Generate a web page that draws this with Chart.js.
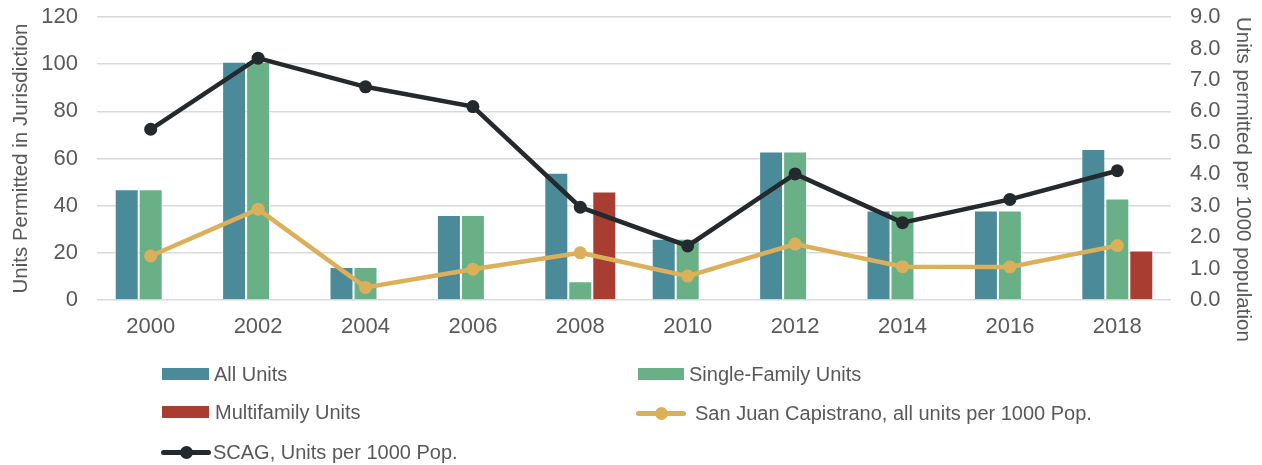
<!DOCTYPE html>
<html>
<head>
<meta charset="utf-8">
<script src="https://cdn.jsdelivr.net/npm/chart.js@4.4.1/dist/chart.umd.min.js"></script>
<style>
  html, body { margin: 0; padding: 0; background: #ffffff; }
  #wrap { position: relative; width: 1262px; height: 465px; overflow: hidden; }
  #c { position: absolute; left: 0; top: 0; }
  .lg { position: absolute; font-family: "Liberation Sans", Arial, sans-serif; font-size: 20px; color: #595959; white-space: nowrap; line-height: 24px; }
  .sw { position: absolute; }
</style>
</head>
<body>
<div id="wrap">
  <canvas id="c" width="1262" height="465"></canvas>
  <div id="legend"></div>
</div>
<script>
const years = ['2000','2002','2004','2006','2008','2010','2012','2014','2016','2018'];
const allUnits = [47, 101, 14, 36, 54, 26, 63, 38, 38, 64];
const singleFamily = [47, 101, 14, 36, 8, 26, 63, 38, 38, 43];
const multifamily = [0, 0, 0, 0, 46, 0, 0, 0, 0, 21];
const sjcPer1000 = [1.40, 2.89, 0.40, 0.98, 1.50, 0.76, 1.78, 1.06, 1.05, 1.73];
const scagPer1000 = [5.43, 7.69, 6.78, 6.15, 2.95, 1.72, 4.01, 2.46, 3.20, 4.11];
const leftTicks = [0, 20, 40, 60, 80, 100, 120];
const rightTicks = [0, 1, 2, 3, 4, 5, 6, 7, 8, 9];
const seriesLabels = ['All Units', 'Single-Family Units', 'Multifamily Units', 'San Juan Capistrano, all units per 1000 Pop.', 'SCAG, Units per 1000 Pop.'];
const seriesColors = ['#4a8a99', '#6ab087', '#a93d31', '#dcb05a', '#23292c'];

const FONT = '"Liberation Sans", Arial, sans-serif';
const TICK = '#595959';

const barCommon = { borderColor: 'rgba(255,255,255,0.45)', borderWidth: 1, categoryPercentage: 0.67, barPercentage: 1.0, yAxisID: 'y', order: 2 };
const lineCommon = { type: 'line', yAxisID: 'y1', borderWidth: 4.5, pointRadius: 6.5, pointHoverRadius: 6.5, pointBorderWidth: 0, tension: 0, order: 1, fill: false };

function noPad(s) { s.paddingTop = 0; s.paddingBottom = 0; s.paddingLeft = 0; s.paddingRight = 0; }

new Chart(document.getElementById('c'), {
  type: 'bar',
  data: {
    labels: years,
    datasets: [
      Object.assign({ label: seriesLabels[0], data: allUnits, backgroundColor: seriesColors[0] }, barCommon),
      Object.assign({ label: seriesLabels[1], data: singleFamily, backgroundColor: seriesColors[1] }, barCommon),
      Object.assign({ label: seriesLabels[2], data: multifamily, backgroundColor: seriesColors[2] }, barCommon),
      Object.assign({ label: seriesLabels[3], data: sjcPer1000, borderColor: seriesColors[3], backgroundColor: seriesColors[3], pointBackgroundColor: seriesColors[3] }, lineCommon),
      Object.assign({ label: seriesLabels[4], data: scagPer1000, borderColor: seriesColors[4], backgroundColor: seriesColors[4], pointBackgroundColor: seriesColors[4] }, lineCommon)
    ]
  },
  options: {
    responsive: false,
    animation: false,
    layout: { padding: { top: 17, bottom: 0, left: 0, right: 0 } },
    plugins: { legend: { display: false }, tooltip: { enabled: false } },
    scales: {
      x: {
        offset: true,
        grid: { display: false, drawTicks: false },
        border: { display: false },
        ticks: { color: TICK, font: { family: FONT, size: 22 }, padding: 14, maxRotation: 0 },
        afterFit: (s) => { s.height = 165; noPad(s); }
      },
      y: {
        position: 'left',
        min: 0, max: 120,
        afterBuildTicks: (s) => { s.ticks = leftTicks.map(v => ({ value: v })); },
        grid: { color: '#d9d9d9', lineWidth: 1.6, drawTicks: false },
        border: { display: false },
        ticks: { color: TICK, font: { family: FONT, size: 22 }, padding: 19 },
        title: { display: true, text: 'Units Permitted in Jurisdiction', color: TICK, font: { family: FONT, size: 20.5 }, padding: { top: 9, bottom: 0 } },
        afterFit: (s) => { s.width = 97; noPad(s); }
      },
      y1: {
        position: 'right',
        min: 0, max: 9,
        afterBuildTicks: (s) => { s.ticks = rightTicks.map(v => ({ value: v })); },
        grid: { display: false, drawTicks: false },
        border: { display: false },
        ticks: { color: TICK, font: { family: FONT, size: 22 }, padding: 19, callback: (v) => Number(v).toFixed(1) },
        title: { display: true, text: 'Units permitted per 1000 population', align: 'end', color: TICK, font: { family: FONT, size: 20.5 }, padding: { top: 7, bottom: 0 } },
        afterFit: (s) => { s.width = 91; noPad(s); }
      }
    }
  }
});

// HTML legend built from the series labels/colours
const legendItems = [
  { i: 0, kind: 'box', x: 162, y: 374, w: 47, tx: 214 },
  { i: 1, kind: 'box', x: 638, y: 374, w: 46, tx: 689 },
  { i: 2, kind: 'box', x: 162, y: 412, w: 47, tx: 215 },
  { i: 3, kind: 'line', x: 636, y: 413, w: 50, tx: 695 },
  { i: 4, kind: 'line', x: 161, y: 452, w: 50, tx: 213 }
];
const lg = document.getElementById('legend');
legendItems.forEach(it => {
  const col = seriesColors[it.i];
  if (it.kind === 'box') {
    const b = document.createElement('div');
    b.className = 'sw';
    Object.assign(b.style, { left: it.x + 'px', top: (it.y - 6) + 'px', width: it.w + 'px', height: '12px', background: col });
    lg.appendChild(b);
  } else {
    const l = document.createElement('div');
    l.className = 'sw';
    Object.assign(l.style, { left: it.x + 'px', top: (it.y - 2.5) + 'px', width: it.w + 'px', height: '5px', background: col, borderRadius: '2.5px' });
    lg.appendChild(l);
    const d = document.createElement('div');
    d.className = 'sw';
    Object.assign(d.style, { left: (it.x + it.w / 2 - 6.5) + 'px', top: (it.y - 6.5) + 'px', width: '13px', height: '13px', background: col, borderRadius: '50%' });
    lg.appendChild(d);
  }
  const t = document.createElement('div');
  t.className = 'lg';
  t.textContent = seriesLabels[it.i];
  Object.assign(t.style, { left: it.tx + 'px', top: (it.y - 12) + 'px' });
  lg.appendChild(t);
});
</script>
</body>
</html>
